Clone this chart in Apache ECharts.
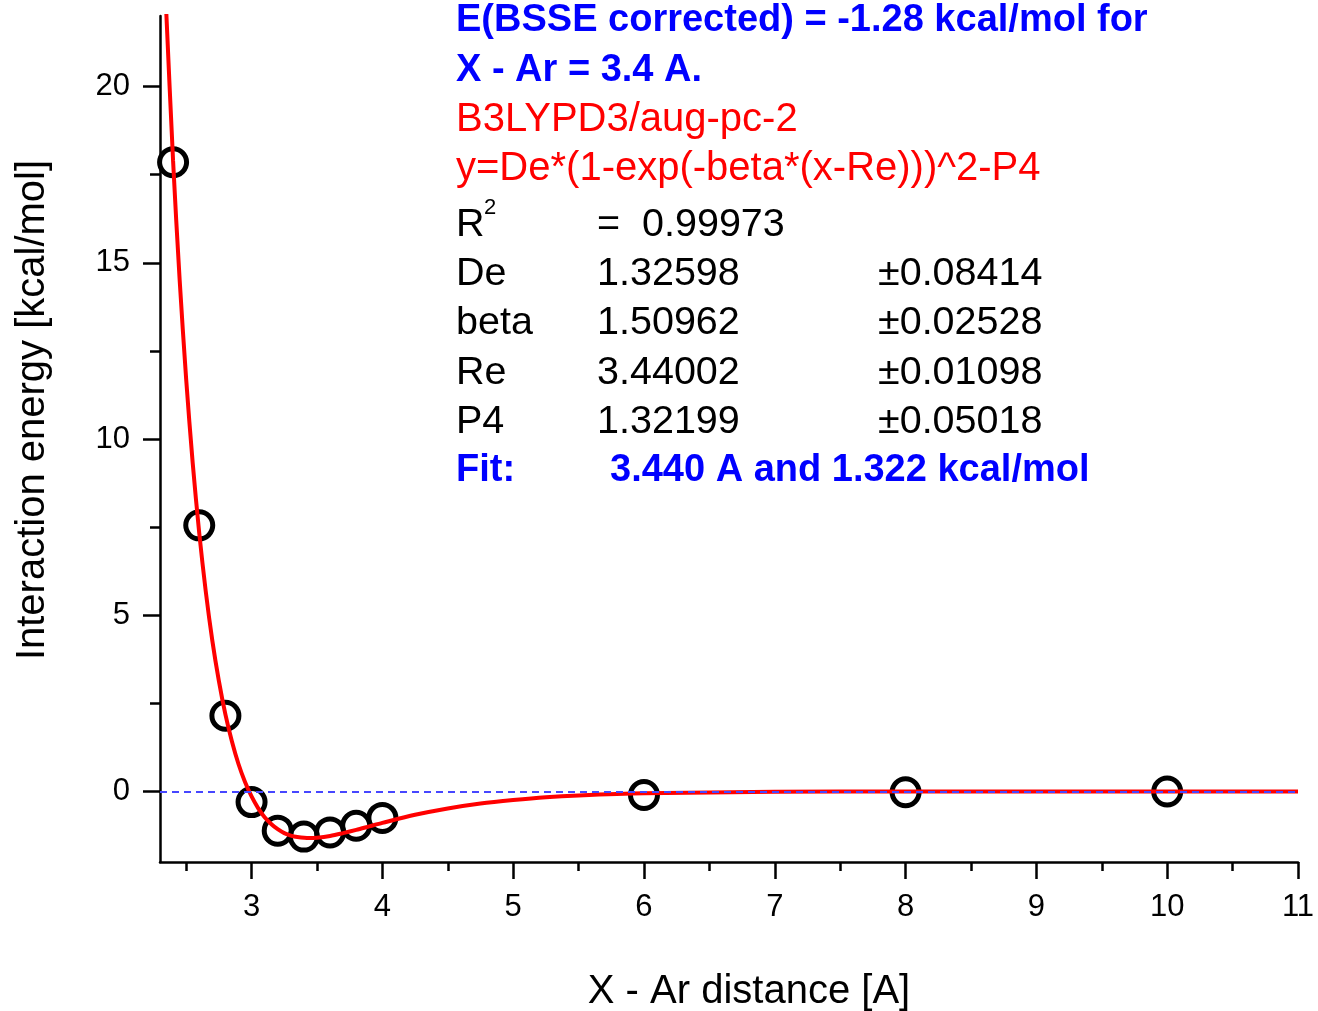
<!DOCTYPE html>
<html>
<head>
<meta charset="utf-8">
<script src="https://cdn.jsdelivr.net/npm/echarts@6/dist/echarts.min.js"></script>
<style>
  html, body { margin: 0; padding: 0; background: #fff; }
  #chart { width: 1318px; height: 1011px; }
</style>
</head>
<body>
<div id="chart"></div>
<script>
// Computed interaction energies (kcal/mol) versus X - Ar distance (A)
const distance = [2.4, 2.6, 2.8, 3.0, 3.2, 3.4, 3.6, 3.8, 4.0, 6, 8, 10];
const energy   = [17.85, 7.55, 2.15, -0.30, -1.11, -1.28, -1.16, -0.97, -0.75, -0.10, -0.02, 0.00];

// Fitted Morse-type curve, sampled along the distance axis
const fitX = [2.34, 2.40, 2.45, 2.50, 2.55, 2.60, 2.65, 2.70, 2.75, 2.80, 2.85, 2.90, 2.95,
              3.00, 3.05, 3.10, 3.15, 3.20, 3.25, 3.30, 3.35, 3.44, 3.50, 3.60, 3.70, 3.80,
              3.90, 4.00, 4.25, 4.50, 4.75, 5.00, 5.25, 5.50, 6.00, 7.00, 8.00, 9.00, 11.00];
const fitY = [22.77, 17.89, 14.53, 11.70, 9.32, 7.33, 5.67, 4.28, 3.14, 2.19, 1.42, 0.78, 0.27,
              -0.14, -0.47, -0.73, -0.92, -1.07, -1.18, -1.25, -1.29, -1.32, -1.31, -1.26, -1.18, -1.09,
              -0.99, -0.89, -0.66, -0.48, -0.34, -0.24, -0.16, -0.11, -0.05, -0.01, 0.00, 0.00, 0.00];

// Axis ticks
const xTicks = [3, 4, 5, 6, 7, 8, 9, 10, 11];
const xMinorTicks = [2.5, 3.5, 4.5, 5.5, 6.5, 7.5, 8.5, 9.5, 10.5];
const yTicks = [0, 5, 10, 15, 20];
const yMinorTicks = [2.5, 7.5, 12.5, 17.5];

// Fit report
const headerLines = ['E(BSSE corrected) = -1.28 kcal/mol for', 'X - Ar = 3.4 A.'];
const methodLines = ['B3LYPD3/aug-pc-2', 'y=De*(1-exp(-beta*(x-Re)))^2-P4'];
const rSquared = '0.99973';
const fitNames = ['De', 'beta', 'Re', 'P4'];
const fitValues = ['1.32598', '1.50962', '3.44002', '1.32199'];
const fitErrors = ['\u00b10.08414', '\u00b10.02528', '\u00b10.01098', '\u00b10.05018'];
const fitSummary = ['Fit:', '3.440 A and 1.322 kcal/mol'];

const FONT = '"Liberation Sans", Arial, Helvetica, sans-serif';
const BLUE = '#0000ff';
const RED = '#ff0000';

const points = distance.map((d, i) => [d, energy[i]]);
const curve = fitX.map((d, i) => [d, fitY[i]]);

function txt(x, y, text, size, color, weight) {
  return {
    type: 'text', x: x, y: y, silent: true,
    style: { text: text, fontSize: size, fontFamily: FONT, fontWeight: weight || 'normal',
             fill: color, align: 'left', verticalAlign: 'middle' }
  };
}

const graphics = [];
const rowY = [21, 71, 120, 169, 225, 274, 323, 373, 422, 471];
headerLines.forEach((t, i) => graphics.push(txt(456, rowY[i], t, 38, BLUE, 'bold')));
methodLines.forEach((t, i) => graphics.push(txt(456, rowY[2 + i], t, 40, RED)));
graphics.push(txt(456, rowY[4], 'R', 39.5, '#000'));
graphics.push(txt(484, rowY[4] - 17, '2', 22, '#000'));
graphics.push(txt(597, rowY[4], '=  ' + rSquared, 39.5, '#000'));
fitNames.forEach((n, i) => {
  graphics.push(txt(456, rowY[5 + i], n, 39.5, '#000'));
  graphics.push(txt(597, rowY[5 + i], fitValues[i], 39.5, '#000'));
  graphics.push(txt(878, rowY[5 + i], fitErrors[i], 39.5, '#000'));
});
graphics.push(txt(456, rowY[9], fitSummary[0], 38, BLUE, 'bold'));
graphics.push(txt(610, rowY[9], fitSummary[1], 38, BLUE, 'bold'));

const axisLineStyle = { color: '#000', width: 2.5 };
const gridBox = { left: 160, top: 16, width: 1138, height: 846, containLabel: false, outerBoundsMode: 'none' };

const option = {
  animation: false,
  backgroundColor: '#fff',
  grid: [Object.assign({}, gridBox), Object.assign({}, gridBox)],
  xAxis: [
    {
      type: 'value', gridIndex: 0, min: 2.3, max: 11,
      splitLine: { show: false },
      axisLine: { onZero: false, lineStyle: axisLineStyle },
      axisTick: { customValues: xTicks, inside: false, length: 17, lineStyle: axisLineStyle },
      axisLabel: { customValues: xTicks, fontSize: 31, fontFamily: FONT, color: '#000', margin: 30 },
      name: 'X - Ar distance [A]', nameLocation: 'middle', nameGap: 110, nameMoveOverlap: false,
      nameTextStyle: { fontSize: 40, fontFamily: FONT, color: '#000', padding: [0, 0, 0, 40] }
    },
    {
      type: 'value', gridIndex: 1, min: 2.3, max: 11,
      splitLine: { show: false },
      axisLine: { show: false, onZero: false },
      axisTick: { customValues: xMinorTicks, inside: false, length: 9, lineStyle: axisLineStyle },
      axisLabel: { show: false }
    }
  ],
  yAxis: [
    {
      type: 'value', gridIndex: 0, min: -2, max: 22,
      splitLine: { show: false },
      axisLine: { onZero: false, lineStyle: axisLineStyle },
      axisTick: { customValues: yTicks, inside: false, length: 17, lineStyle: axisLineStyle },
      axisLabel: { customValues: yTicks, fontSize: 31, fontFamily: FONT, color: '#000', margin: 30 },
      name: 'Interaction energy [kcal/mol]', nameLocation: 'middle', nameGap: 107, nameMoveOverlap: false,
      nameTextStyle: { fontSize: 40, fontFamily: FONT, color: '#000', padding: [0, 0, 0, 58] }
    },
    {
      type: 'value', gridIndex: 1, min: -2, max: 22,
      splitLine: { show: false },
      axisLine: { show: false, onZero: false },
      axisTick: { customValues: yMinorTicks, inside: false, length: 10, lineStyle: axisLineStyle },
      axisLabel: { show: false }
    }
  ],
  series: [
    {
      name: 'energy', type: 'scatter', xAxisIndex: 0, yAxisIndex: 0, z: 2,
      data: points, symbol: 'circle', symbolSize: 27,
      itemStyle: { color: 'rgba(255,255,255,0)', borderColor: '#000', borderWidth: 5, opacity: 1 },
      silent: true
    },
    {
      name: 'fit', type: 'line', xAxisIndex: 0, yAxisIndex: 0, z: 3,
      data: curve, showSymbol: false, smooth: 0.3, clip: true,
      lineStyle: { color: RED, width: 4 }, silent: true
    },
    {
      name: 'zero', type: 'line', xAxisIndex: 0, yAxisIndex: 0, z: 4, data: [],
      markLine: {
        silent: true, symbol: ['none', 'none'], label: { show: false },
        lineStyle: { color: '#4646ff', type: [7, 5], width: 2 },
        data: [{ yAxis: 0 }]
      }
    }
  ],
  graphic: graphics
};

const chart = echarts.init(document.getElementById('chart'), null, { renderer: 'canvas' });
chart.setOption(option);
</script>
</body>
</html>
